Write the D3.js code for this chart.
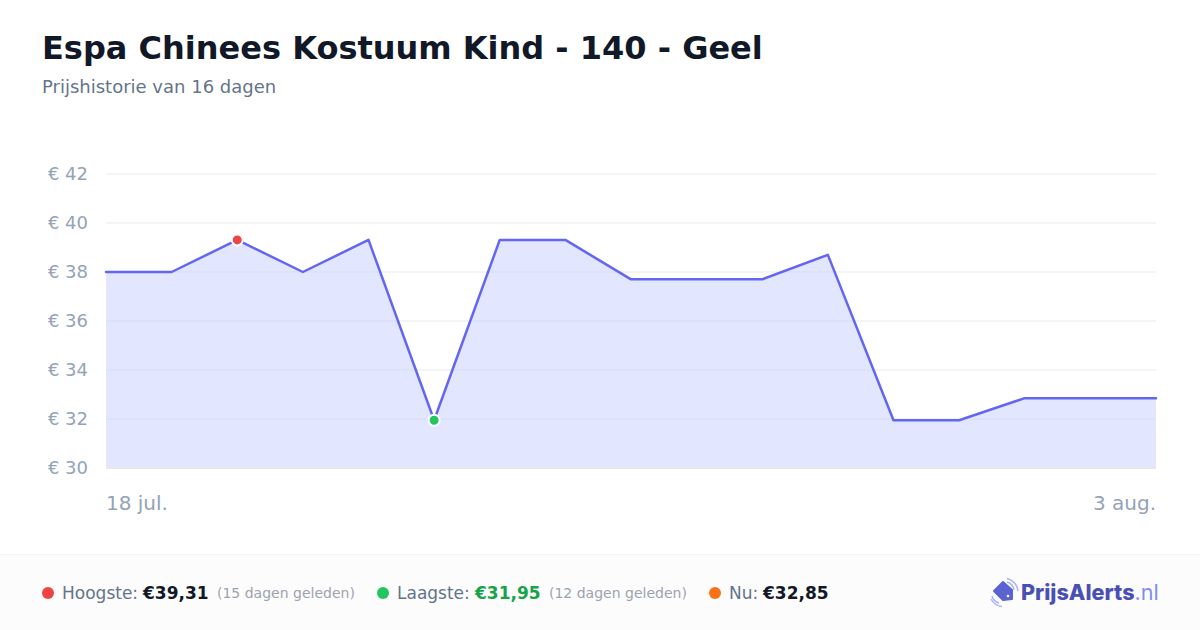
<!DOCTYPE html>
<html>
<head>
<meta charset="utf-8">
<script src="https://cdn.jsdelivr.net/npm/d3@7"></script>
<style>
    html, body { margin: 0; padding: 0; background: #fff; }
    svg { display: block; font-family: "DejaVu Sans", sans-serif; }
</style>
</head>
<body>
<div id="chart"></div>
<script>
// prices per day
const days = d3.range(0, 17);
const prices = [38, 38, 39.31, 38, 39.31, 31.95, 39.31, 39.31, 37.7, 37.7, 37.7, 38.7, 31.95, 31.95, 32.85, 32.85, 32.85];
const yTicks = [30, 32, 34, 36, 38, 40, 42];
const xLabels = ["18 jul.", "3 aug."];
const highIndex = 2;
const lowIndex = 5;

const width = 1200, height = 630;
const margin = {top: 174, right: 44, bottom: 162, left: 106};

const svg = d3.select("#chart").append("svg")
    .attr("width", width)
    .attr("height", height);

svg.append("rect").attr("width", width).attr("height", height).attr("fill", "#fff");

// title
svg.append("text").attr("x", 42).attr("y", 59)
    .attr("font-size", 32).attr("font-weight", 700).attr("fill", "#111827")
    .text("Espa Chinees Kostuum Kind - 140 - Geel");
svg.append("text").attr("x", 42).attr("y", 93)
    .attr("font-size", 18).attr("fill", "#64748b")
    .text("Prijshistorie van 16 dagen");

const x = d3.scaleLinear().domain([0, 16]).range([margin.left, width - margin.right]);
const y = d3.scaleLinear().domain([30, 42]).range([height - margin.bottom, margin.top]);

// grid + labels
const yAxis = svg.append("g").selectAll("g").data(yTicks).join("g");
yAxis.append("line")
    .attr("x1", x(0)).attr("x2", x(16))
    .attr("y1", d => y(d)).attr("y2", d => y(d))
    .attr("stroke", "#f3f4f6").attr("stroke-width", 2);
yAxis.append("text")
    .attr("x", 88).attr("y", d => y(d) + 6)
    .attr("text-anchor", "end")
    .attr("font-size", 18).attr("fill", "#94a3b8")
    .text(d => "€ " + d);

// area and line
const area = d3.area().x((d, i) => x(days[i])).y0(y(30)).y1(d => y(d));
const line = d3.line().x((d, i) => x(days[i])).y(d => y(d));

svg.append("path").datum(prices).attr("d", area)
    .attr("fill", "#cfd5ff").attr("fill-opacity", 0.6);

// baseline sits on top of the area
svg.append("line")
    .attr("x1", x(0)).attr("x2", x(16))
    .attr("y1", y(30)).attr("y2", y(30))
    .attr("stroke", "#e5e7eb").attr("stroke-width", 2);

svg.append("path").datum(prices).attr("d", line)
    .attr("fill", "none").attr("stroke", "#6366f1").attr("stroke-width", 2.5)
    .attr("stroke-linejoin", "round").attr("stroke-linecap", "round");

// high / low markers
svg.append("circle").attr("cx", x(days[highIndex])).attr("cy", y(prices[highIndex])).attr("r", 5.5)
    .attr("fill", "#ef4444").attr("stroke", "#fff").attr("stroke-width", 2);
svg.append("circle").attr("cx", x(days[lowIndex])).attr("cy", y(prices[lowIndex])).attr("r", 5.5)
    .attr("fill", "#22c55e").attr("stroke", "#fff").attr("stroke-width", 2);

// x labels
svg.append("text").attr("x", x(0)).attr("y", 510)
    .attr("font-size", 20).attr("fill", "#94a3b8").text(xLabels[0]);
svg.append("text").attr("x", x(16)).attr("y", 510).attr("text-anchor", "end")
    .attr("font-size", 20).attr("fill", "#94a3b8").text(xLabels[1]);

// footer
svg.append("rect").attr("x", 0).attr("y", 554).attr("width", width).attr("height", 76).attr("fill", "#fcfcfc");
svg.append("line").attr("x1", 0).attr("x2", width).attr("y1", 554.5).attr("y2", 554.5).attr("stroke", "#f3f4f6");

function stat(cx, color, label, labelX, value, valueX, valueColor, note, noteX) {
    svg.append("circle").attr("cx", cx).attr("cy", 593).attr("r", 6).attr("fill", color);
    svg.append("text").attr("x", labelX).attr("y", 599).attr("font-size", 17).attr("fill", "#64748b").text(label);
    svg.append("text").attr("x", valueX).attr("y", 599).attr("font-size", 17).attr("font-weight", 700).attr("fill", valueColor).text(value);
    if (note) {
        svg.append("text").attr("x", noteX).attr("y", 598).attr("font-size", 14).attr("fill", "#9ca3af").text(note);
    }
}
stat(48, "#ef4444", "Hoogste:", 62, "€39,31", 143, "#111827", "(15 dagen geleden)", 217);
stat(383, "#22c55e", "Laagste:", 397, "€31,95", 475, "#16a34a", "(12 dagen geleden)", 549);
stat(715, "#f97316", "Nu:", 729, "€32,85", 763, "#111827", null, 0);

// logo
const logo = svg.append("g");
logo.append("path")
    .attr("d", "M1003 582 L1012 590 L1012 599 L1003 600 L994 591 Z")
    .attr("fill", "#5b63d3").attr("stroke", "#5b63d3").attr("stroke-width", 2).attr("stroke-linejoin", "round");
logo.append("circle").attr("cx", 1008).attr("cy", 596).attr("r", 1.3).attr("fill", "#fff");
const arcs = ["M1007 582 A10 10 0 0 1 1014 590", "M1007 578.5 A14 14 0 0 1 1018 591", "M992 596 A10 10 0 0 0 999 603", "M991 599 A14 14 0 0 0 1002 606.5"];
logo.selectAll("path.arc").data(arcs).join("path").attr("class", "arc")
    .attr("d", d => d).attr("fill", "none").attr("stroke", "#a5b4fc").attr("stroke-width", 1.5);
const logoText = logo.append("text").attr("x", 1021).attr("y", 600)
    .attr("font-family", "Inter, sans-serif").attr("font-size", 21.6);
logoText.append("tspan").attr("font-weight", 800).attr("fill", "#4a4fb5").text("PrijsAlerts");
logoText.append("tspan").attr("font-weight", 400).attr("fill", "#818cf8").text(".nl");
</script>
</body>
</html>
